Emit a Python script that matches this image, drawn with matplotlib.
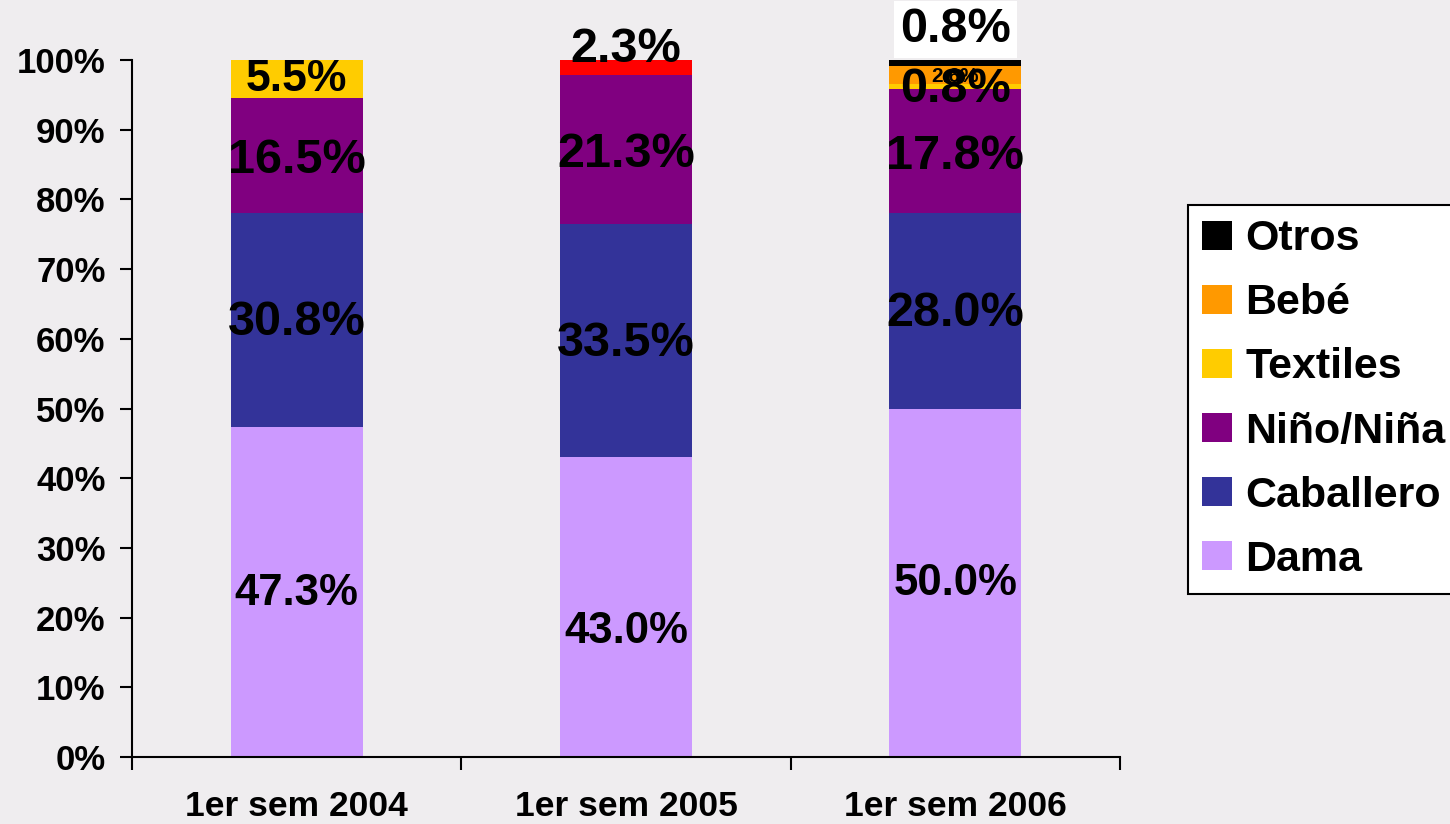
import matplotlib
matplotlib.use("Agg")
import matplotlib.pyplot as plt
from matplotlib.patches import Patch
import numpy as np

plt.rcParams['font.family'] = ['Liberation Sans', 'DejaVu Sans']
plt.rcParams['font.weight'] = 'bold'

categories = ['1er sem 2004', '1er sem 2005', '1er sem 2006']
dama = [47.3, 43.0, 50.0]
caballero = [30.8, 33.5, 28.0]
nino = [16.5, 21.3, 17.8]
textiles = [5.5, 2.3, 0.8]
bebe = [0.0, 0.0, 2.6]
otros = [0.0, 0.0, 0.8]

series_names = ['Dama', 'Caballero', 'Niño/Niña', 'Textiles', 'Bebé', 'Otros']
series_vals = [dama, caballero, nino, textiles, bebe, otros]
series_colors = ['#CC99FF', '#333399', '#800080', '#FFCC00', '#FF9900', '#000000']
# Textiles bar of 2005 is drawn in red in the original
textiles_point_colors = ['#FFCC00', '#FF0000', '#FFCC00']

fig = plt.figure(figsize=(14.5, 8.24), dpi=100, facecolor='#efedef')
ax = fig.add_axes([132/1450, 1-757/824, (1120-132)/1450, (757-60)/824])
ax.set_facecolor('none')

x = np.arange(len(categories))
width = 0.40
bottom = np.zeros(len(categories))
bottoms = []
for name, vals, col in zip(series_names, series_vals, series_colors):
    vals = np.array(vals, dtype=float)
    colors = textiles_point_colors if name == 'Textiles' else [col]*len(vals)
    ax.bar(x, vals, width, bottom=bottom, color=colors, edgecolor='none', zorder=2)
    bottoms.append(bottom.copy())
    bottom = bottom + vals

def lab(i, s, vals, size, dy=0, bbox=None):
    v = vals[i]
    b = bottoms[s][i]
    ax.annotate(f"{v:.1f}%", (x[i], b + v/2), xytext=(0, dy), textcoords='offset pixels',
                ha='center', va='center', fontsize=size, fontweight='bold', color='black',
                zorder=5, bbox=bbox, annotation_clip=False)

for i in range(3):
    lab(i, 0, dama, 31.5, dy=(-24 if i == 1 else -1))
    lab(i, 1, caballero, 35, dy=-3)
    lab(i, 2, nino, 35, dy=-5)
lab(0, 3, textiles, 32, dy=-1)
lab(1, 3, textiles, 35, dy=18)
lab(2, 3, textiles, 35, dy=-3)
lab(2, 4, bebe, 15, dy=-2)
lab(2, 5, otros, 35, dy=33,
    bbox=dict(facecolor='white', edgecolor='none', boxstyle='square,pad=0.12'))

ax.set_ylim(0, 100)
ax.set_xlim(-0.5, 2.5)
ax.set_yticks(np.arange(0, 101, 10))
ax.set_yticklabels([f"{t}%" for t in range(0, 101, 10)], fontsize=25, fontweight='bold')
ax.set_xticks([-0.5, 0.5, 1.5, 2.5])
ax.set_xticklabels([])
ax.set_xticks(x, minor=True)
ax.set_xticklabels(categories, minor=True, fontsize=25.5, fontweight='bold')
ax.tick_params(axis='x', which='minor', length=0, pad=24)
ax.tick_params(axis='x', which='major', length=9, width=1.5, direction='out')
ax.tick_params(axis='y', length=9, width=1.5, direction='out', pad=10)
for sp in ['top', 'right']:
    ax.spines[sp].set_visible(False)
for sp in ['left', 'bottom']:
    ax.spines[sp].set_linewidth(1.5)

handles = [Patch(facecolor=c, edgecolor='none') for c in series_colors][::-1]
labels = series_names[::-1]
leg = fig.legend(handles, labels, loc='upper left', bbox_to_anchor=(1188/1450, 1-205/824),
                 prop={'weight': 'bold', 'size': 31}, frameon=True, fancybox=False,
                 edgecolor='black', facecolor='white', framealpha=1, handlelength=0.7,
                 handleheight=0.66, handletextpad=0.3, labelspacing=0.56, borderpad=0.33,
                 borderaxespad=0)
leg.get_frame().set_linewidth(1.5)

fig.savefig('out.png', dpi=100, facecolor=fig.get_facecolor())
